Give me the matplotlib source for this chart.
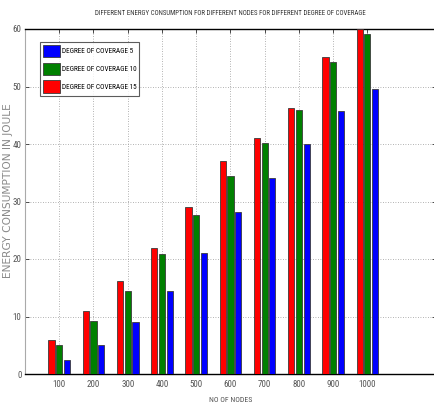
import matplotlib
matplotlib.use("Agg")
import matplotlib.pyplot as plt
import numpy as np
from matplotlib import font_manager

# Energy consumption (J) per node count for three degrees of coverage
nodes = ["100", "200", "300", "400", "500", "600", "700", "800", "900", "1000"]
coverage_15 = [6, 11, 16.2, 22, 29, 37, 41, 46.2, 55.2, 60]
coverage_10 = [5, 9.2, 14.5, 20.8, 27.6, 34.4, 40.2, 45.9, 54.2, 59.1]
coverage_5 = [2.5, 5, 9.1, 14.5, 21, 28.1, 34.1, 40, 45.8, 49.6]

# pick a condensed face when one is installed
cands = [(f.name, f.stretch) for f in font_manager.fontManager.ttflist]
narrow_family = "DejaVu Sans"
narrow_stretch = "normal"
for name in ["Liberation Sans Narrow", "Roboto Condensed", "Open Sans Condensed",
             "Noto Sans Condensed", "DejaVu Sans Condensed"]:
    if any(n == name for n, _ in cands):
        narrow_family = name
        break
else:
    for n, s in cands:
        if s in ("condensed", "semi-condensed", "extra-condensed", 500, 300, 200, 400) and \
                n in ("DejaVu Sans", "Noto Sans", "Open Sans", "Roboto", "Liberation Sans"):
            if s not in (400, 500):
                narrow_family, narrow_stretch = n, s
                break


def nfont(size, **kw):
    return font_manager.FontProperties(family=narrow_family, stretch=narrow_stretch,
                                       size=size, **kw)


fig = plt.figure(figsize=(4.35, 4.04), dpi=100)
ax = fig.add_axes([25 / 435, 1 - 374 / 404, 1 - 25 / 435 + 0.002, (374 - 29) / 404])

x = np.arange(1, len(nodes) + 1)
w = 0.18
off = 0.225
b15 = ax.bar(x - off, coverage_15, w, color="#ff0000", edgecolor="#3a3a3a", linewidth=0.6,
             label="DEGREE OF COVERAGE 15", zorder=3)
b10 = ax.bar(x, coverage_10, w, color="#008000", edgecolor="#3a3a3a", linewidth=0.6,
             label="DEGREE OF COVERAGE 10", zorder=3)
b5 = ax.bar(x + off, coverage_5, w, color="#0000ff", edgecolor="#3a3a3a", linewidth=0.6,
            label="DEGREE OF COVERAGE 5", zorder=3)

ax.set_xlim(0, 12)
ax.set_ylim(0, 60)
ax.set_xticks(x)
ax.set_xticklabels(nodes)
ax.set_yticks(np.arange(0, 61, 10))

ax.grid(True, linestyle=(0, (1, 2)), color="#999999", linewidth=0.6, zorder=0)
ax.tick_params(direction="in", length=3, width=0.6, colors="#333333",
               labelcolor="#555555", top=True, right=True, pad=4)
ax.tick_params(axis="y", pad=2.5)
for lab in ax.get_xticklabels() + ax.get_yticklabels():
    lab.set_fontproperties(nfont(6.5))

ax.spines["left"].set_color("#aaaaaa")
ax.spines["left"].set_linewidth(0.8)
for s in ("top", "bottom", "right"):
    ax.spines[s].set_color("black")
    ax.spines[s].set_linewidth(1.0)

ax.set_title("DIFFERENT ENERGY CONSUMPTION FOR DIFFERENT NODES FOR DIFFERENT DEGREE OF COVERAGE",
             fontproperties=nfont(4.95), color="#333333", pad=10)
ax.set_xlabel("NO OF NODES", fontproperties=nfont(5.6), color="#555555")
ax.xaxis.set_label_coords((230 - 25) / 410, -(397 - 374) / 345)
ax.set_ylabel("ENERGY CONSUMPTION IN JOULE", fontsize=7.7, family="DejaVu Sans",
              color="#8a8a8a")
ax.yaxis.set_label_coords(-(25 - 13) / 410, (374 - 191) / 345)

leg = ax.legend(handles=[b5, b10, b15], loc="upper left",
                bbox_to_anchor=(15 / 410, 1 - 13 / 345),
                prop=nfont(5.2), frameon=True, fancybox=False,
                edgecolor="#333333", handlelength=2.35, handleheight=2.3,
                handletextpad=0.3, borderpad=0.35, labelspacing=0.75, borderaxespad=0)
leg.get_frame().set_linewidth(0.8)

fig.savefig("out.png", dpi=100, facecolor="white")
